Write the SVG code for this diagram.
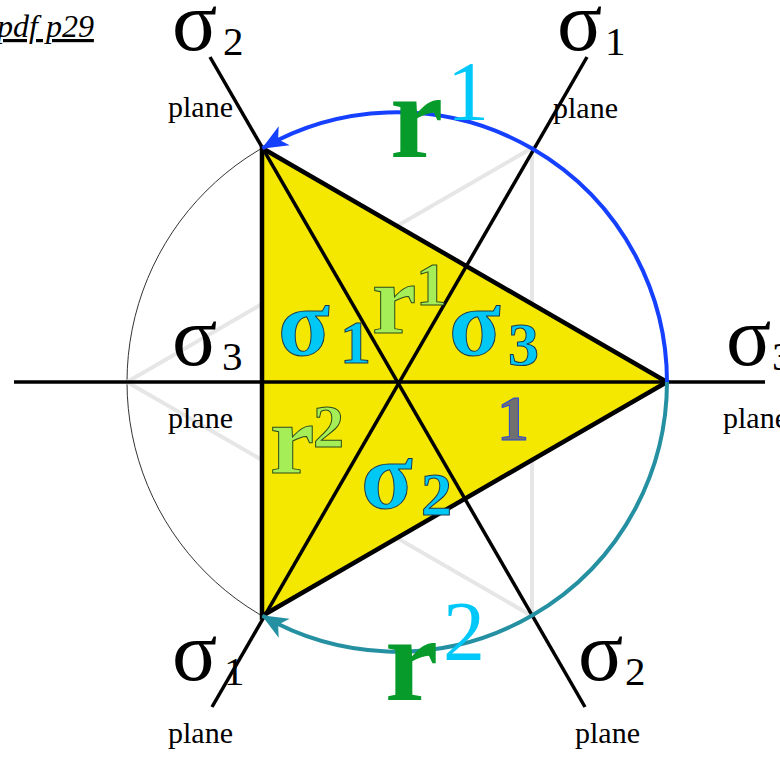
<svg xmlns="http://www.w3.org/2000/svg" width="780" height="758" viewBox="0 0 780 758">
<style>
.serif{font-family:"Liberation Serif","Times New Roman",serif;fill:#000}
.sig{font-size:84px}
.sub{font-size:41px}
.plane{font-size:30px}
.bigr{font-family:"Liberation Serif",serif;font-weight:bold;font-size:120px;fill:#079b2c}
.bigsup{font-family:"Liberation Serif",serif;font-size:84px;fill:#00c8f8}
.cy{font-family:"Liberation Serif",serif;font-weight:bold;fill:#00c8f5;stroke:#1b3550;stroke-width:1}
.gr{font-family:"Liberation Serif",serif;font-weight:bold;fill:#a6ee58;stroke:#2d4a1a;stroke-width:1}
.plane-line{stroke:#000;stroke-width:3.5;fill:none}
</style>
<defs>
<marker id="ahBlue" viewBox="0 0 26 24" refX="25" refY="12" markerWidth="26" markerHeight="24" markerUnits="userSpaceOnUse" orient="auto">
<path d="M0,1 L26,12 L0,23 L7,12 Z" fill="#1640ff"/>
</marker>
<marker id="ahTeal" viewBox="0 0 26 24" refX="25" refY="12" markerWidth="26" markerHeight="24" markerUnits="userSpaceOnUse" orient="auto">
<path d="M0,1 L26,12 L0,23 L7,12 Z" fill="#2590a2"/>
</marker>
</defs>
<rect width="780" height="758" fill="#fff"/>
<text class="serif" x="-3" y="37" font-size="32" font-style="italic" text-decoration="underline">pdf p29</text>
<g id="circle"><circle cx="397" cy="382" r="270" fill="none" stroke="#333" stroke-width="1"/></g>
<g id="guide-triangle"><polygon points="127,382 532,148 532,616" fill="none" stroke="#e6e6e6" stroke-width="4"/></g>
<g id="triangle"><polygon points="262,148 667,382 262,616" fill="#f4e800" stroke="#000" stroke-width="4.5" stroke-linejoin="miter"/></g>
<g id="connectors">
<line class="plane-line" x1="14" y1="382" x2="765" y2="382"/>
<line class="plane-line" x1="587" y1="57" x2="212" y2="707"/>
<line class="plane-line" x1="210" y1="57" x2="585" y2="707"/>
<path d="M667,382 A270,270 0 0 0 262.5,148.2" fill="none" stroke="#1640ff" stroke-width="4" marker-end="url(#ahBlue)"/>
<path d="M667,382 A270,270 0 0 1 262.5,615.8" fill="none" stroke="#2590a2" stroke-width="4" marker-end="url(#ahTeal)"/>
</g>
<g id="plane-sigma2-top"><text class="serif sig" x="172" y="50">σ</text><text class="serif sub" x="223" y="55">2</text><text class="serif plane" x="168" y="117">plane</text></g>
<g id="plane-sigma1-top"><text class="serif sig" x="557" y="50">σ</text><text class="serif sub" x="605" y="55">1</text><text class="serif plane" x="553" y="118">plane</text></g>
<g id="plane-sigma3-left"><text class="serif sig" x="172" y="365">σ</text><text class="serif sub" x="222" y="370">3</text><text class="serif plane" x="168" y="428">plane</text></g>
<g id="plane-sigma3-right"><text class="serif sig" x="726" y="365">σ</text><text class="serif sub" x="772" y="370">3</text><text class="serif plane" x="723" y="428">plane</text></g>
<g id="plane-sigma1-bottom"><text class="serif sig" x="172" y="680">σ</text><text class="serif sub" x="224" y="685">1</text><text class="serif plane" x="168" y="743">plane</text></g>
<g id="plane-sigma2-bottom"><text class="serif sig" x="578" y="680">σ</text><text class="serif sub" x="625" y="685">2</text><text class="serif plane" x="575" y="743">plane</text></g>
<g id="label-r1-top"><text class="bigr" x="390" y="157">r</text><text class="bigsup" x="447" y="120">1</text></g>
<g id="label-r2-bottom"><text class="bigr" x="385" y="700">r</text><text class="bigsup" x="443" y="660">2</text></g>
<g id="region-sigma1"><text class="cy" x="278" y="355" font-size="95">σ</text><text class="cy" x="340" y="363" font-size="62">1</text></g>
<g id="region-r1"><text class="gr" x="372" y="333" font-size="100">r</text><text class="gr" x="416" y="305" font-size="62">1</text></g>
<g id="region-sigma3"><text class="cy" x="449" y="355" font-size="95">σ</text><text class="cy" x="508" y="365" font-size="62">3</text></g>
<g id="region-identity"><text x="497" y="440" font-family="Liberation Serif,serif" font-weight="bold" font-size="64" fill="#707070" stroke="#2848d8" stroke-width="1">1</text></g>
<g id="region-r2"><text class="gr" x="270" y="473" font-size="100">r</text><text class="gr" x="313" y="447" font-size="62">2</text></g>
<g id="region-sigma2"><text class="cy" x="361" y="508" font-size="95">σ</text><text class="cy" x="421" y="515" font-size="62">2</text></g>
</svg>
